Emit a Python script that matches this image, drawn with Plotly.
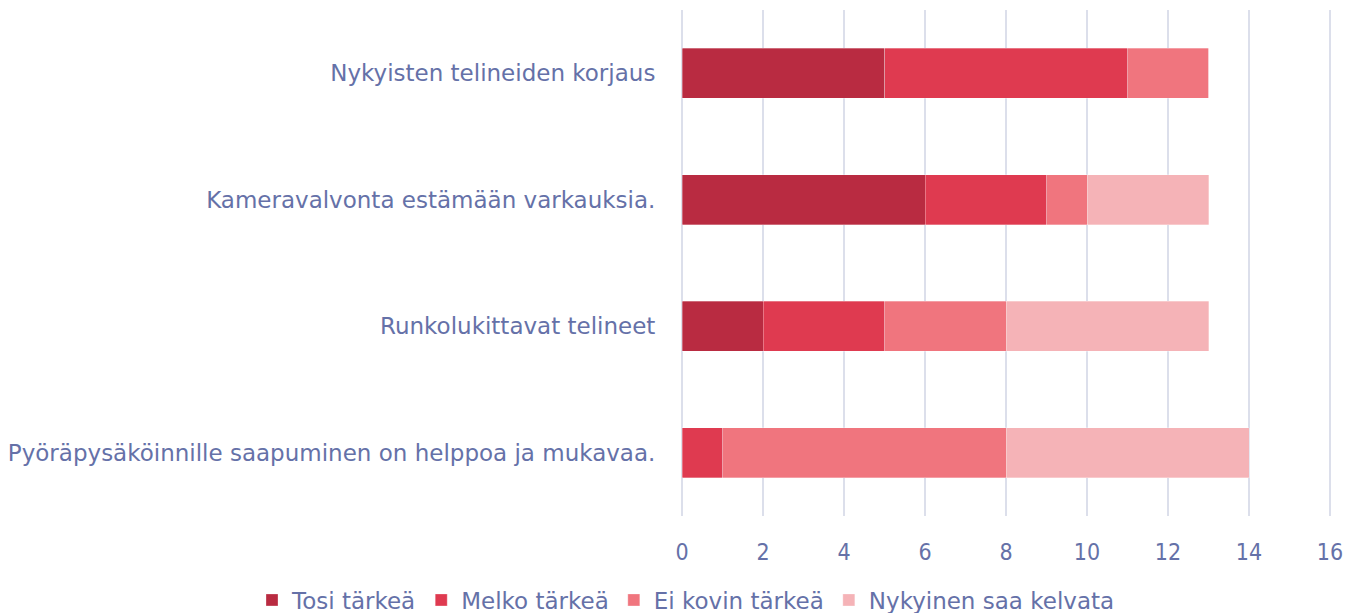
import plotly.graph_objects as go

categories = [
    "Nykyisten telineiden korjaus",
    "Kameravalvonta estämään varkauksia.",
    "Runkolukittavat telineet",
    "Pyöräpysäköinnille saapuminen on helppoa ja mukavaa.",
]
series_names = ["Tosi tärkeä", "Melko tärkeä", "Ei kovin tärkeä", "Nykyinen saa kelvata"]
tosi = [5, 6, 2, 0]
melko = [6, 3, 3, 1]
ei_kovin = [2, 1, 3, 7]
nykyinen = [0, 3, 5, 6]
colors = ["#B92B41", "#DF3A50", "#F0757E", "#F5B3B7"]
x_ticks = [0, 2, 4, 6, 8, 10, 12, 14, 16]

text_color = "#6571A8"
font_family = "'DejaVu Sans', sans-serif"
tick_family = "'Liberation Sans Narrow', 'DejaVu Sans Condensed', sans-serif"

W, H = 1347, 613
PAD = 0.04  # small range padding so the grid lines at 0 and 16 are drawn
px_per_unit = (1330 - 682) / 16

fig = go.Figure()
for name, vals, col in zip(series_names, [tosi, melko, ei_kovin, nykyinen], colors):
    fig.add_trace(go.Bar(
        y=categories, x=vals, name=name, orientation="h",
        marker=dict(color=col, line=dict(color="rgba(255,255,255,0.6)", width=0.5)),
        width=0.395,
    ))

fig.update_layout(
    barmode="stack",
    width=W, height=H,
    margin=dict(l=0, r=0, t=0, b=0, autoexpand=False),
    plot_bgcolor="white", paper_bgcolor="white",
    font=dict(family=font_family, color=text_color, size=20),
    xaxis=dict(
        domain=[(682 - PAD * px_per_unit) / W, (1330 + PAD * px_per_unit) / W],
        range=[-PAD, 16 + PAD], tickvals=x_ticks, ticktext=[str(v) for v in x_ticks],
        showgrid=True, gridcolor="#DCDFEB", gridwidth=2,
        zeroline=False, showline=False,
        tickfont=dict(size=23, color=text_color, family=tick_family),
        ticklabelstandoff=20,
        automargin=False,
    ),
    yaxis=dict(
        domain=[(H - 516) / H, (H - 10) / H],
        autorange="reversed", showgrid=False, showline=False, zeroline=False,
        tickfont=dict(size=23, color=text_color),
        ticklabelstandoff=24,
        automargin=False,
    ),
    legend=dict(
        orientation="h", x=686 / W, xanchor="center", xref="container",
        y=(H - 600) / H, yanchor="middle", yref="container",
        font=dict(size=23, color=text_color),
        traceorder="normal",
    ),
)

fig.write_html(
    "out.html",
    config={"displayModeBar": False},
    post_script="document.body.style.margin='0';document.body.style.overflow='hidden';",
)
